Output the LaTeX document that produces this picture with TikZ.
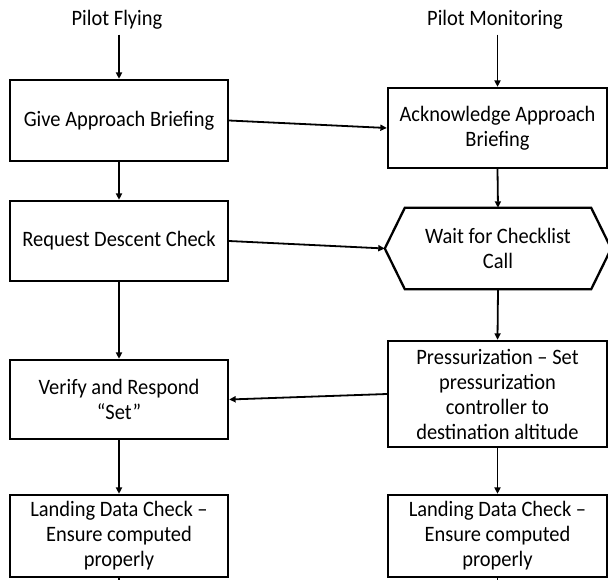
\documentclass[tikz,border=0pt]{standalone}
\usepackage{fontspec}
\setmainfont{Carlito}[FakeStretch=0.93]
\usetikzlibrary{arrows.meta}
\begin{document}
\begin{tikzpicture}[x=1pt,y=-1pt,
  font=\fontsize{22}{25}\selectfont,
  box/.style={draw=black, line width=2.3pt, rectangle, align=center, inner sep=2pt},
  title/.style={inner xsep=0pt, inner ysep=5pt},
  conn/.style={line width=1.8pt, -{Triangle[length=6.5pt,width=6pt]}},
  stub/.style={line width=1.8pt}]
\useasboundingbox (0,0) rectangle (608,579);
% titles
\node[title] (pf) at (117,20) {Pilot Flying};
\node[title] (pm) at (495,20) {Pilot Monitoring};
% left column
\node[box, minimum width=218pt, minimum height=81pt] (give) at (119,120.5) {Give Approach Briefing};
\node[box, minimum width=218pt, minimum height=80pt] (req) at (119,241) {Request Descent Check};
\node[box, minimum width=218pt, minimum height=79pt] (verify) at (119,399.5) {Verify and Respond\\“Set”};
\node[box, minimum width=218pt, minimum height=82pt] (landL) at (119,536) {Landing Data Check –\\Ensure computed\\properly};
% right column
\node[box, minimum width=219pt, minimum height=80pt] (ack) at (497.5,128) {Acknowledge Approach\\Briefing};
\node[align=center, minimum width=226pt, minimum height=81pt, inner sep=0pt] (wait) at (498,248.5) {Wait for Checklist\\Call};
\draw[line width=2.3pt, line join=miter] (wait.west) -- ([xshift=20pt]wait.north west) -- ([xshift=-20pt]wait.north east) -- (wait.east) -- ([xshift=-20pt]wait.south east) -- ([xshift=20pt]wait.south west) -- cycle;
\node[box, minimum width=219pt, minimum height=106pt] (press) at (497.5,394) {Pressurization – Set\\pressurization\\controller to\\destination altitude};
\node[box, minimum width=219pt, minimum height=82pt] (landR) at (497.5,536) {Landing Data Check –\\Ensure computed\\properly};
% free ends below the page edge
\coordinate (endL) at (119,590);
\coordinate (endR) at (497.5,590);
% connectors
\draw[conn] (pf.south -| give.north) -- (give.north);
\draw[conn] (pm.south -| ack.north) -- (ack.north);
\draw[conn] (give.east) -- (ack.west);
\draw[conn] (give.south) -- (req.north);
\draw[conn] (ack.south) -- (wait.north);
\draw[conn] (req.east) -- (wait.west);
\draw[conn] (req.south) -- (verify.north);
\draw[conn] (wait.south) -- (press.north);
\draw[conn] (press.west) -- (verify.east);
\draw[conn] (verify.south) -- (landL.north);
\draw[conn] (press.south) -- (landR.north);
\draw[stub] (landL.south) -- (endL);
\draw[stub] (landR.south) -- (endR);
\end{tikzpicture}
\end{document}
